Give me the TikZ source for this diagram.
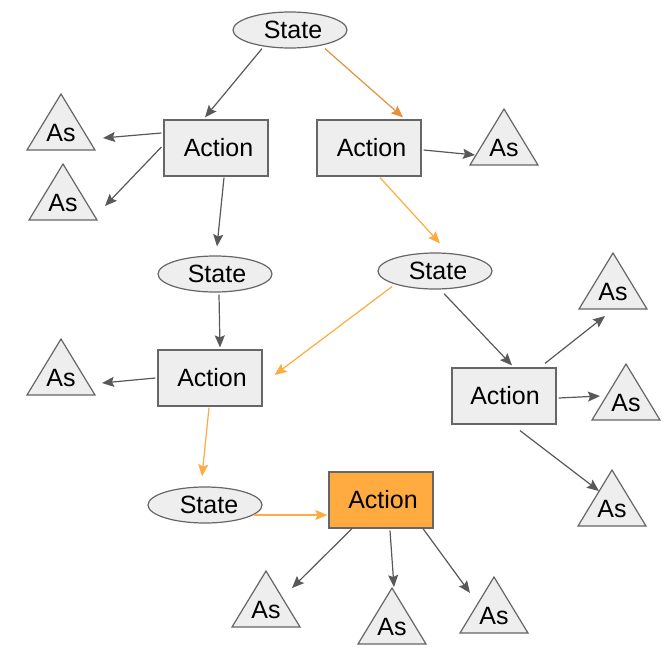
\documentclass[tikz,border=0pt]{standalone}
\usepackage{fontspec}
\setmainfont{Liberation Sans}
\usetikzlibrary{shapes.geometric,arrows.meta}

\definecolor{nodefill}{HTML}{EEEEEE}
\definecolor{nodeline}{HTML}{666666}
\definecolor{edgegray}{HTML}{595959}
\definecolor{darkorange}{HTML}{E69138}
\definecolor{lightorange}{HTML}{FFAB40}

\tikzset{
    statenode/.style={ellipse, draw=nodeline, fill=nodefill, line width=1.2pt,
        minimum width=114pt, minimum height=36pt, inner sep=0pt},
    actionnode/.style={rectangle, draw=nodeline, fill=nodefill, line width=1.2pt,
        minimum width=104pt, minimum height=56pt, inner sep=0pt},
    astri/.style={draw=nodeline, fill=nodefill, line width=1.2pt, line join=miter},
    aslabel/.style={inner sep=0pt},
    edge/.style={draw=edgegray, line width=1.2pt, -{Stealth[length=12pt,width=10pt,inset=2pt]}},
    hotedge/.style={edge, draw=lightorange},
}

\begin{document}
\begin{tikzpicture}[x=1pt, y=-1pt, font=\fontsize{25}{29}\selectfont]
    \fill[white] (0,0) rectangle (665,667);
    \useasboundingbox (0,0) rectangle (665,667);

    % states and actions
    \node[statenode] (s1) at (290,30) {\hspace*{6pt}State};
    \node[actionnode] (a1) at (216,148) {\hspace*{5pt}Action};
    \node[actionnode] (a2) at (369,148) {\hspace*{5pt}Action};
    \node[statenode] (s2) at (215,274) {\hspace*{4pt}State};
    \node[statenode] (s3) at (435,271) {\hspace*{6pt}State};
    \node[actionnode] (a3) at (210,378) {\hspace*{4pt}Action};
    \node[actionnode] (a4) at (504,396) {\hspace*{2pt}Action};
    \node[statenode] (s4) at (205,505) {\hspace*{8pt}State};
    \node[actionnode, fill=lightorange] (a5) at (381,500) {\hspace*{4pt}Action};

    % action sets
    \foreach \n/\x/\y in {t1/61/150, t2/63/220, t3/504/165, t4/61/395, t5/613/309,
                          t6/626/420, t7/612/526, t8/266/627, t9/392/644, t10/494/633} {
        \filldraw[astri] (\x-34,\y) -- (\x,\y-56) -- (\x+34,\y) -- cycle;
        \node[aslabel] (\n) at (\x,\y-17) {As};
    }

    % connectors
    \draw[edge] ([shift={(-28,0)}]s1.south) -- ([shift={(-11,-2)}]a1.north);
    \draw[edge, draw=darkorange] ([shift={(35,0)}]s1.south) -- ([shift={(34,-2)}]a2.north);
    \draw[edge] ([shift={(-2,-15)}]a1.west) -- ([shift={(42,5)}]t1.center);
    \draw[edge] ([shift={(-2,-1)}]a1.west) -- ([shift={(42,3)}]t2.center);
    \draw[edge] ([shift={(8,1)}]a1.south) -- ([shift={(2,-9)}]s2.north);
    \draw[edge] ([shift={(2,2)}]a2.east) -- ([shift={(-29,7)}]t3.center);
    \draw[hotedge] ([shift={(11,1)}]a2.south) -- ([shift={(5,-9)}]s3.north);
    \draw[edge] ([shift={(4,2)}]s2.south) -- ([shift={(10,-2)}]a3.north);
    \draw[hotedge] ([shift={(-43,-3)}]s3.south) -- ([shift={(12,-3)}]a3.east);
    \draw[edge] ([shift={(9,4)}]s3.south) -- ([shift={(8,-2)}]a4.north);
    \draw[edge] ([shift={(-2,0)}]a3.west) -- ([shift={(41,5)}]t4.center);
    \draw[hotedge] ([shift={(-1,1)}]a3.south) -- ([shift={(-3,-10)}]s4.north);
    \draw[edge] ([shift={(41,-4)}]a4.north) -- ([shift={(-8,24)}]t5.center);
    \draw[edge] ([shift={(2,2)}]a4.east) -- ([shift={(-26,-7)}]t6.center);
    \draw[edge] ([shift={(16,6)}]a4.south) -- ([shift={(-13,-18)}]t7.center);
    \draw[hotedge] ([shift={(-9,10)}]s4.east) -- ([shift={(-1,15)}]a5.west);
    \draw[edge] ([shift={(-29,0)}]a5.south) -- ([shift={(26,-22)}]t8.center);
    \draw[edge] ([shift={(9,2)}]a5.south) -- ([shift={(2,-40)}]t9.center);
    \draw[edge] ([shift={(42,0)}]a5.south) -- ([shift={(-24,-23)}]t10.center);
\end{tikzpicture}
\end{document}
